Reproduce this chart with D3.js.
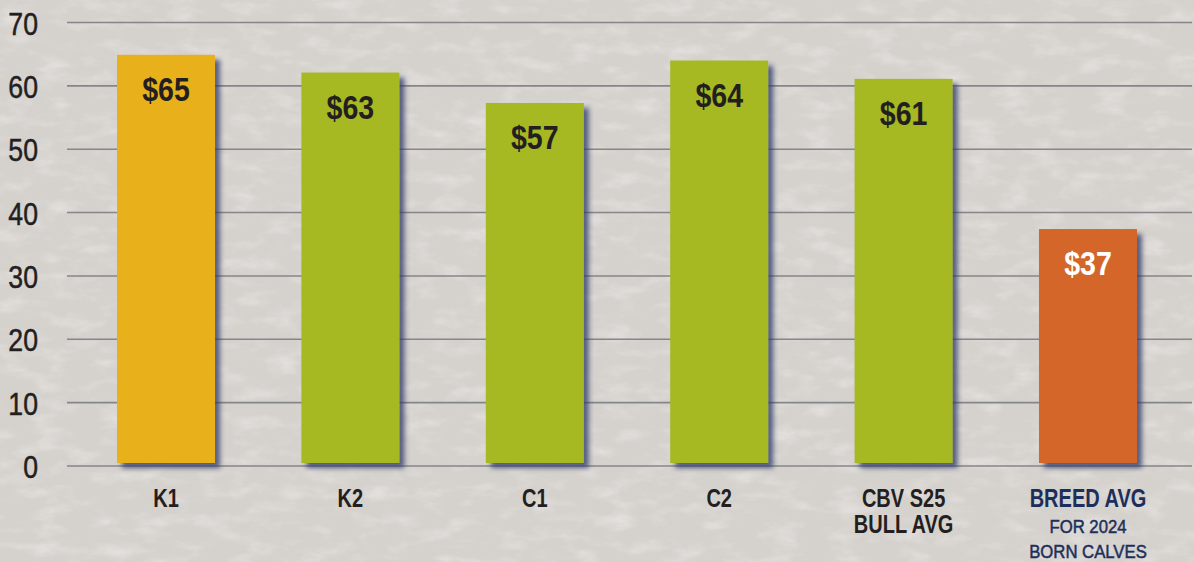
<!DOCTYPE html>
<html>
<head>
<meta charset="utf-8">
<script src="https://cdn.jsdelivr.net/npm/d3@7"></script>
<style>
  html, body { margin: 0; padding: 0; background: #d7d3cf; }
  svg { display: block; }
</style>
</head>
<body>
<div id="chart"></div>
<script>
// chart data
const categories = ["K1", "K2", "C1", "C2", "CBV S25", "BREED AVG"]
const values = [64.9, 62.1, 57.3, 64.0, 61.1, 37.4]
const valueLabels = ["$65", "$63", "$57", "$64", "$61", "$37"]
const subLines = [[], [], [], [], ["BULL AVG"], ["FOR 2024", "BORN CALVES"]]
const barColors = ["#e8b11c", "#a6b824", "#a6b824", "#a6b824", "#a6b824", "#d4662a"]
const yTicks = [0, 10, 20, 30, 40, 50, 60, 70]

const width = 1194, height = 562
const font = "'Liberation Sans', Arial, sans-serif"

const svg = d3.select("#chart").append("svg")
  .attr("width", width)
  .attr("height", height)

const defs = svg.append("defs")

// paper-ish texture for the background
const tex = defs.append("filter").attr("id", "tex")
  .attr("x", 0).attr("y", 0).attr("width", "100%").attr("height", "100%")
tex.append("feTurbulence")
  .attr("type", "fractalNoise")
  .attr("baseFrequency", "0.03 0.07")
  .attr("numOctaves", 4)
  .attr("seed", 11)
  .attr("result", "noise")
tex.append("feColorMatrix")
  .attr("in", "noise")
  .attr("type", "matrix")
  .attr("values", "0 0 0 0 1  0 0 0 0 1  0 0 0 0 1  0 0 0 -1.6 0.85")

// drop shadow under the bars
const shadow = defs.append("filter").attr("id", "shadow")
  .attr("x", "-10%").attr("y", "-10%").attr("width", "130%").attr("height", "130%")
shadow.append("feDropShadow")
  .attr("dx", 5).attr("dy", 5)
  .attr("stdDeviation", 2.5)
  .attr("flood-color", "#2b3866")
  .attr("flood-opacity", 0.75)

svg.append("rect")
  .attr("width", width).attr("height", height)
  .attr("fill", "#d5d1cd")
svg.append("rect")
  .attr("width", width).attr("height", height)
  .attr("fill", "#ffffff")
  .attr("filter", "url(#tex)")
  .attr("opacity", 0.45)

// scales
const y = d3.scaleLinear()
  .domain([0, 70])
  .range([466, 22.5])

const x = d3.scaleBand()
  .domain(categories)
  .range([117, 1137])
  .paddingInner(0.4685)
  .paddingOuter(0)

// text that is squeezed sideways to look like a condensed face
function narrowText(sel, cx, cy, sx) {
  return sel.attr("transform", "translate(" + cx + "," + cy + ") scale(" + sx + ",1)")
}

// grid lines
svg.append("g")
  .selectAll("line")
  .data(yTicks)
  .enter()
  .append("line")
    .attr("x1", 67)
    .attr("x2", 1192)
    .attr("y1", d => y(d))
    .attr("y2", d => y(d))
    .attr("stroke", "#85868b")
    .attr("stroke-width", 1.6)

// y tick labels
svg.append("g")
  .selectAll("text")
  .data(yTicks)
  .enter()
  .append("text")
    .each(function (d) { narrowText(d3.select(this), 38, y(d) + 12, 0.86) })
    .attr("text-anchor", "end")
    .style("font-family", font)
    .style("font-size", "31px")
    .style("fill", "#231f20")
    .style("stroke", "#231f20")
    .style("stroke-width", 0.5)
    .text(d => d)

// bars
const data = categories.map((c, i) => ({ cat: c, v: values[i], label: valueLabels[i], color: barColors[i], sub: subLines[i] }))

svg.append("g")
  .selectAll("rect")
  .data(data)
  .enter()
  .append("rect")
    .attr("x", d => x(d.cat))
    .attr("y", d => y(d.v))
    .attr("width", x.bandwidth())
    .attr("height", d => y(0) - 3 - y(d.v))
    .attr("fill", d => d.color)
    .attr("filter", "url(#shadow)")

// value labels
svg.append("g")
  .selectAll("text")
  .data(data)
  .enter()
  .append("text")
    .each(function (d) { narrowText(d3.select(this), x(d.cat) + x.bandwidth() / 2, y(d.v) + 46, 0.84) })
    .attr("text-anchor", "middle")
    .style("font-family", font)
    .style("font-weight", "bold")
    .style("font-size", "34px")
    .style("fill", (d, i) => i === 5 ? "#ffffff" : "#231f20")
    .text(d => d.label)

// category labels
const catG = svg.append("g")
  .selectAll("g")
  .data(data)
  .enter()
  .append("g")
    .attr("transform", d => "translate(" + (x(d.cat) + x.bandwidth() / 2) + ",0)")

catG.append("text")
  .each(function () { narrowText(d3.select(this), 0, 507, 0.8) })
  .attr("text-anchor", "middle")
  .style("font-family", font)
  .style("font-weight", "bold")
  .style("font-size", "25px")
  .style("fill", (d, i) => i === 5 ? "#1b2f5a" : "#231f20")
  .text(d => d.cat)

catG.each(function (d, i) {
  const g = d3.select(this)
  d.sub.forEach((line, j) => {
    const t = g.append("text")
      .attr("text-anchor", "middle")
      .style("font-family", font)
      .style("font-weight", i === 5 ? "normal" : "bold")
      .style("font-size", i === 5 ? "19px" : "25px")
      .style("fill", i === 5 ? "#1b2f5a" : "#231f20")
      .style("stroke", i === 5 ? "#1b2f5a" : "none")
      .style("stroke-width", 0.5)
      .text(line)
    narrowText(t, 0, 533 + j * 25, i === 5 ? 0.88 : 0.8)
  })
})
</script>
</body>
</html>
